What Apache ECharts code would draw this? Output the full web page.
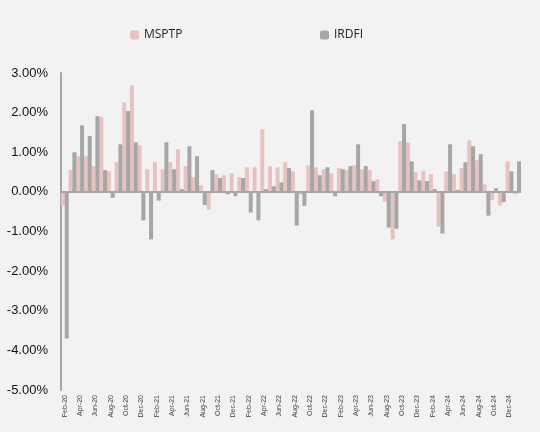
<!DOCTYPE html>
<html>
<head>
<meta charset="utf-8">
<script src="https://cdn.jsdelivr.net/npm/echarts@6/dist/echarts.min.js"></script>
<style>
html,body{margin:0;padding:0;background:#f2f2f2;}
#chart{width:540px;height:432px;}
</style>
</head>
<body>
<div id="chart"></div>
<script>
var categories = ['Feb-20','Mar-20','Apr-20','May-20','Jun-20','Jul-20','Aug-20','Sep-20','Oct-20','Nov-20','Dec-20',
'Jan-21','Feb-21','Mar-21','Apr-21','May-21','Jun-21','Jul-21','Aug-21','Sep-21','Oct-21','Nov-21','Dec-21',
'Jan-22','Feb-22','Mar-22','Apr-22','May-22','Jun-22','Jul-22','Aug-22','Sep-22','Oct-22','Nov-22','Dec-22',
'Jan-23','Feb-23','Mar-23','Apr-23','May-23','Jun-23','Jul-23','Aug-23','Sep-23','Oct-23','Nov-23','Dec-23',
'Jan-24','Feb-24','Mar-24','Apr-24','May-24','Jun-24','Jul-24','Aug-24','Sep-24','Oct-24','Nov-24','Dec-24','Jan-25'];

var msptp = [-0.35,0.55,0.90,0.90,0.65,1.89,0.52,0.75,2.26,2.69,1.18,
0.57,0.75,0.57,0.75,1.08,0.65,0.37,0.17,-0.45,0.45,0.42,0.47,
0.37,0.62,0.62,1.58,0.65,0.62,0.75,0.52,-0.07,0.67,0.62,0.57,
0.47,0.60,0.55,0.67,0.57,0.55,0.32,-0.24,-1.20,1.28,1.25,0.50,
0.52,0.45,-0.88,0.52,0.45,0.60,1.30,0.80,0.19,-0.21,-0.34,0.77,-0.06];

var irdfi = [-3.70,1.00,1.68,1.41,1.91,0.55,-0.15,1.20,2.04,1.25,-0.72,
-1.20,-0.22,1.25,0.57,0.07,1.15,0.90,-0.33,0.55,0.35,-0.06,-0.11,
0.35,-0.52,-0.72,0.07,0.14,0.24,0.60,-0.85,-0.35,2.06,0.42,0.62,
-0.11,0.57,0.65,1.20,0.65,0.27,-0.11,-0.90,-0.93,1.71,0.77,0.29,
0.27,0.07,-1.05,1.20,0.05,0.75,1.15,0.95,-0.60,0.09,-0.26,0.52,0.77];

var yTicks = {min:-5, max:3, interval:1};

var chart = echarts.init(document.getElementById('chart'));
chart.setOption({
  backgroundColor:'#f2f2f2',
  animation:false,
  legend:[
    {data:['MSPTP'], left:125, top:24, itemWidth:9, itemHeight:9, itemGap:5,
     textStyle:{fontFamily:'Open Sans', fontSize:12, color:'#222'}},
    {data:['IRDFI'], left:315, top:24, itemWidth:9, itemHeight:9, itemGap:5,
     textStyle:{fontFamily:'Open Sans', fontSize:12, color:'#222'}}
  ],
  grid:{left:61, right:19, top:73, bottom:42, containLabel:false},
  xAxis:{
    type:'category', data:categories,
    axisLine:{show:false}, axisTick:{show:false},
    axisLabel:{interval:1, rotate:90, fontSize:7, color:'#444', fontFamily:'Liberation Sans', margin:5}
  },
  yAxis:{
    type:'value', min:yTicks.min, max:yTicks.max, interval:yTicks.interval,
    axisLine:{show:true, lineStyle:{color:'#a6a6a6', width:2}},
    axisTick:{show:false}, splitLine:{show:false},
    axisLabel:{formatter:function(v){return v.toFixed(2)+'%';}, fontSize:13, color:'#111', fontFamily:'Liberation Sans', margin:13}
  },
  series:[
    {name:'MSPTP', type:'bar', data:msptp, itemStyle:{color:'#e8c1c0'}, barWidth:4, barGap:'-5%',
     markLine:{silent:true, symbol:'none', label:{show:false}, lineStyle:{color:'#a6a6a6', width:2, type:'solid'}, data:[{yAxis:0}]}},
    {name:'IRDFI', type:'bar', data:irdfi, itemStyle:{color:'#a6a6a6'}, barWidth:4, barGap:'-5%'}
  ]
});
</script>
</body>
</html>
